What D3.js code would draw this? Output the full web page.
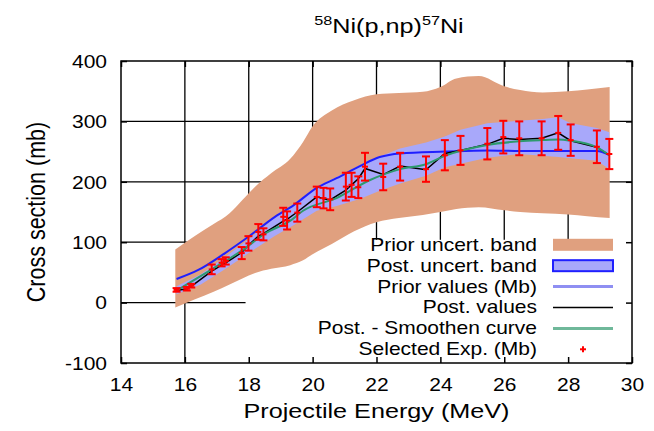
<!DOCTYPE html>
<html>
<head>
<meta charset="utf-8">
<script src="https://cdn.jsdelivr.net/npm/d3@7"></script>
<style>
body { margin: 0; background: #fff; }
text { font-family: "Liberation Sans", Arial, sans-serif; fill: #000; }
</style>
</head>
<body>
<div id="chart-area"></div>
<script>
// ---- data ----
var xTicks = [14, 16, 18, 20, 22, 24, 26, 28, 30];
var yTicks = [-100, 0, 100, 200, 300, 400];

// prior uncertainty band (salmon)
var priorBandE  = [15.7, 16.3, 16.9, 17.4, 17.8, 18.2, 18.7, 19.3, 19.7, 20.0, 20.6, 21.3, 22.0, 22.7, 23.45, 24.0, 24.5, 25.2, 26.0, 26.5, 27.2, 28.0, 28.6, 29.3];
var priorBandHi = [88, 110, 130, 148, 170, 192, 214, 238, 266, 292, 318, 335, 345, 347, 349, 357, 371, 375, 358, 352, 348, 350, 353, 357];
var priorBandLo = [-8, 5, 18, 30, 40, 49, 56, 62, 70, 80, 97, 118, 133, 140, 145, 150, 155, 158, 153, 150, 148, 146, 143, 140];

// posterior uncertainty band (light blue)
var postBandE  = [15.74, 16.5, 17.3, 18.0, 18.8, 19.4, 20.13, 20.75, 21.5, 22.1, 22.74, 23.55, 24.14, 24.63, 25.47, 26.47, 27.2, 27.69, 28.08, 28.9, 29.29];
var postBandHi = [27, 47, 77, 105, 140, 162, 192, 208, 228, 242, 255, 265, 275, 286, 297, 301, 304, 307, 297, 289, 282];
var postBandLo = [14, 30, 57, 82, 110, 128, 152, 160, 172, 185, 197, 210, 224, 230, 240, 246, 243, 241, 239, 235, 221];

// prior values (blue line)
var priorE = [15.74, 16.42, 17.26, 17.99, 18.82, 19.4, 20.13, 20.75, 21.48, 22.1, 22.74, 24.14, 25.47, 26.47, 27.69, 28.9, 29.29];
var priorV = [39, 54, 82, 109, 142, 161, 190, 206, 226, 241, 247, 250, 252, 251, 251, 251, 244];

// selected experimental data
var expE   = [15.74, 16.06, 16.2, 16.84, 17.15, 17.28, 17.78, 17.99, 18.3, 18.46, 19.08, 19.2, 19.52, 20.13, 20.34, 20.55, 21.04, 21.22, 21.43, 21.64, 22.21, 22.74, 23.55, 24.14, 24.63, 25.47, 25.97, 26.47, 27.17, 27.69, 28.08, 28.9, 29.29];
var expV   = [21, 23, 28, 55, 66, 69, 82, 98, 117, 113, 142, 136, 149, 175, 173, 171, 192, 195, 191, 225, 208, 225, 221, 244, 252, 263, 274, 272, 272, 281, 269, 258, 246];
var expErr = [3, 3, 3, 8, 6, 6, 10, 12, 13, 10, 15, 15, 15, 17, 17, 18, 23, 20, 18, 23, 22, 23, 21, 25, 24, 26, 27, 28, 28, 28, 26, 27, 25];

// posterior values (black line), at the experimental energies
var postV = [20, 23, 27, 52, 62, 66, 83, 95, 110, 114, 135, 138, 150, 175, 172, 170, 186, 195, 205, 222, 212, 226, 220, 247, 252, 262, 272, 270, 272, 281, 268, 257, 244];

// smoothed posterior curve (green)
var smoothE = [15.74, 16.84, 17.78, 18.5, 19.34, 19.7, 20.75, 21.8, 22.74, 23.55, 24.14, 25.47, 26.47, 27.17, 27.69, 28.08, 28.9, 29.29];
var smoothV = [20, 55, 86, 114, 137, 152, 173, 203, 221, 229, 243, 261, 267, 269, 270, 268, 257, 244];

var legendLabels = ["Prior uncert. band", "Post. uncert. band", "Prior values (Mb)", "Post. values", "Post. - Smoothen curve", "Selected Exp. (Mb)"];

// ---- layout ----
var margin = { left: 121, right: 22, top: 61, bottom: 68 };
var width = 654 - margin.left - margin.right,
    height = 431 - margin.top - margin.bottom;
var sx = 1.2; // the picture's text is stretched sideways

var salmon = "#e0a07f",
    bandBlue = "#a8a8fa",
    lineBlue = "#1f1fff",
    green = "#2e9a6e",
    red = "#ff0000";

var svg = d3.select("#chart-area")
    .append("svg")
        .attr("width", width + margin.left + margin.right)
        .attr("height", height + margin.top + margin.bottom);

var g = svg.append("g")
    .attr("transform", "translate(" + margin.left + "," + margin.top + ")");

var x = d3.scaleLinear().domain([14, 30]).range([0, width]);
var y = d3.scaleLinear().domain([-100, 400]).range([height, 0]);

// grid
g.selectAll(".vgrid")
    .data(xTicks.slice(1, -1))
    .enter().append("line")
        .attr("x1", d => x(d)).attr("x2", d => x(d))
        .attr("y1", 0).attr("y2", height)
        .attr("stroke", "#000").attr("stroke-width", 1.3);
g.selectAll(".hgrid")
    .data(yTicks.slice(1, -1))
    .enter().append("line")
        .attr("x1", 0).attr("x2", width)
        .attr("y1", d => y(d)).attr("y2", d => y(d))
        .attr("stroke", "#000").attr("stroke-width", 1.3);

// key box: blanks the grid, the curves still go over it
var keyX = x(17.9),
    keyY = y(104);
var key = g.append("g")
    .attr("transform", "translate(" + keyX + "," + keyY + ")");
key.append("rect")
    .attr("width", width - keyX)
    .attr("height", height - keyY)
    .attr("fill", "#fff");

// prior band
var priorArea = d3.area()
    .x((d, i) => x(priorBandE[i]))
    .y0((d, i) => y(priorBandLo[i]))
    .y1((d, i) => y(priorBandHi[i]))
    .curve(d3.curveMonotoneX);
g.append("path")
    .datum(priorBandE)
    .attr("d", priorArea)
    .attr("fill", salmon);

// posterior band
var postArea = d3.area()
    .x((d, i) => x(postBandE[i]))
    .y0((d, i) => y(postBandLo[i]))
    .y1((d, i) => y(postBandHi[i]));
g.append("path")
    .datum(postBandE)
    .attr("d", postArea)
    .attr("fill", bandBlue);

// prior values
var priorLine = d3.line()
    .x((d, i) => x(priorE[i]))
    .y((d, i) => y(priorV[i]))
    .curve(d3.curveMonotoneX);
g.append("path")
    .datum(priorE)
    .attr("d", priorLine)
    .attr("fill", "none")
    .attr("stroke", lineBlue)
    .attr("stroke-width", 2);

// posterior values
var postLine = d3.line()
    .x((d, i) => x(expE[i]))
    .y((d, i) => y(postV[i]));
g.append("path")
    .datum(expE)
    .attr("d", postLine)
    .attr("fill", "none")
    .attr("stroke", "#000")
    .attr("stroke-width", 1.5);

// smoothed curve
var smoothLine = d3.line()
    .x((d, i) => x(smoothE[i]))
    .y((d, i) => y(smoothV[i]))
    .curve(d3.curveMonotoneX);
g.append("path")
    .datum(smoothE)
    .attr("d", smoothLine)
    .attr("fill", "none")
    .attr("stroke", green)
    .attr("stroke-width", 2);

// experimental points with error bars
var pts = g.selectAll(".exp")
    .data(expE)
    .enter().append("g")
        .attr("class", "exp")
        .attr("stroke", red)
        .attr("stroke-width", 2);
pts.append("line")
    .attr("x1", d => x(d)).attr("x2", d => x(d))
    .attr("y1", (d, i) => y(expV[i] - expErr[i]))
    .attr("y2", (d, i) => y(expV[i] + expErr[i]));
pts.append("line")
    .attr("x1", d => x(d) - 4).attr("x2", d => x(d) + 4)
    .attr("y1", (d, i) => y(expV[i] - expErr[i]))
    .attr("y2", (d, i) => y(expV[i] - expErr[i]));
pts.append("line")
    .attr("x1", d => x(d) - 4).attr("x2", d => x(d) + 4)
    .attr("y1", (d, i) => y(expV[i] + expErr[i]))
    .attr("y2", (d, i) => y(expV[i] + expErr[i]));
pts.append("line")
    .attr("x1", d => x(d) - 3).attr("x2", d => x(d) + 3)
    .attr("y1", (d, i) => y(expV[i]))
    .attr("y2", (d, i) => y(expV[i]));

// legend entries
var rowY = d => 5 + d * 20.9;
var textX = 537 - margin.left - keyX,
    sampleX0 = 553 - margin.left - keyX,
    sampleX1 = 613 - margin.left - keyX;

var keyTop = g.append("g")
    .attr("transform", "translate(" + keyX + "," + keyY + ")");

keyTop.selectAll(".ktext")
    .data(legendLabels)
    .enter().append("text")
        .attr("transform", (d, i) => "translate(" + textX + "," + (rowY(i) + 6) + ") scale(" + sx + ",1)")
        .attr("text-anchor", "end")
        .attr("font-size", "17.5px")
        .text(d => d);

keyTop.append("rect")
    .attr("x", sampleX0).attr("y", rowY(0) - 6)
    .attr("width", sampleX1 - sampleX0).attr("height", 12)
    .attr("fill", salmon);
keyTop.append("rect")
    .attr("x", sampleX0).attr("y", rowY(1) - 5.5)
    .attr("width", sampleX1 - sampleX0).attr("height", 11)
    .attr("fill", bandBlue)
    .attr("stroke", lineBlue)
    .attr("stroke-width", 2);
keyTop.append("line")
    .attr("x1", sampleX0).attr("x2", sampleX1)
    .attr("y1", rowY(2)).attr("y2", rowY(2))
    .attr("stroke", "#8f8ff2").attr("stroke-width", 3);
keyTop.append("line")
    .attr("x1", sampleX0).attr("x2", sampleX1)
    .attr("y1", rowY(3)).attr("y2", rowY(3))
    .attr("stroke", "#000").attr("stroke-width", 1.5);
keyTop.append("line")
    .attr("x1", sampleX0).attr("x2", sampleX1)
    .attr("y1", rowY(4)).attr("y2", rowY(4))
    .attr("stroke", "#6fb89a").attr("stroke-width", 3);
var kx = (sampleX0 + sampleX1) / 2;
keyTop.append("line")
    .attr("x1", kx - 3).attr("x2", kx + 3)
    .attr("y1", rowY(5)).attr("y2", rowY(5))
    .attr("stroke", red).attr("stroke-width", 2);
keyTop.append("line")
    .attr("x1", kx).attr("x2", kx)
    .attr("y1", rowY(5) - 3).attr("y2", rowY(5) + 3)
    .attr("stroke", red).attr("stroke-width", 2);

// axes, ticks inward on all four sides
var xAxisCall = d3.axisBottom(x).tickValues(xTicks).tickSizeInner(-6).tickSizeOuter(0);
var xAxis = g.append("g")
    .attr("class", "x axis")
    .attr("transform", "translate(0," + height + ")")
    .call(xAxisCall);
xAxis.selectAll("text")
    .attr("y", 28).attr("dy", 0)
    .attr("font-size", "17.5px")
    .attr("transform", "scale(" + sx + ",1)");

var yAxisCall = d3.axisLeft(y).tickValues(yTicks).tickSizeInner(-6).tickSizeOuter(0)
    .tickFormat(d => String(d));
var yAxis = g.append("g")
    .attr("class", "y axis")
    .call(yAxisCall);
yAxis.selectAll("text")
    .attr("x", -14 / sx).attr("dy", "0.36em")
    .attr("font-size", "17.5px")
    .attr("transform", "scale(" + sx + ",1)");

g.append("g")
    .call(d3.axisTop(x).tickValues(xTicks).tickSizeInner(-6).tickSizeOuter(0).tickFormat(""));
g.append("g")
    .attr("transform", "translate(" + width + ",0)")
    .call(d3.axisRight(y).tickValues(yTicks).tickSizeInner(-6).tickSizeOuter(0).tickFormat(""));

g.selectAll(".tick line").attr("stroke", "#000").attr("stroke-width", 1.5);
g.selectAll(".domain").remove();

g.append("rect")
    .attr("width", width)
    .attr("height", height)
    .attr("fill", "none")
    .attr("stroke", "#000")
    .attr("stroke-width", 1.5);

// title with superscripts
var title = svg.append("text")
    .attr("transform", "translate(389,33) scale(" + sx + ",1)")
    .attr("text-anchor", "middle")
    .attr("font-size", "21px");
title.append("tspan").attr("font-size", "13.5px").attr("dy", -8).text("58");
title.append("tspan").attr("dy", 8).text("Ni(p,np)");
title.append("tspan").attr("font-size", "13.5px").attr("dy", -8).text("57");
title.append("tspan").attr("dy", 8).text("Ni");

// X Label
svg.append("text")
    .attr("transform", "translate(" + (margin.left + width / 2) + ",418) scale(" + sx + ",1)")
    .attr("text-anchor", "middle")
    .attr("font-size", "21px")
    .text("Projectile Energy (MeV)");

// Y Label
svg.append("text")
    .attr("transform", "translate(45," + (margin.top + y(150)) + ") rotate(-90) scale(1," + sx + ")")
    .attr("text-anchor", "middle")
    .attr("font-size", "21.5px")
    .text("Cross section (mb)");
</script>
</body>
</html>
